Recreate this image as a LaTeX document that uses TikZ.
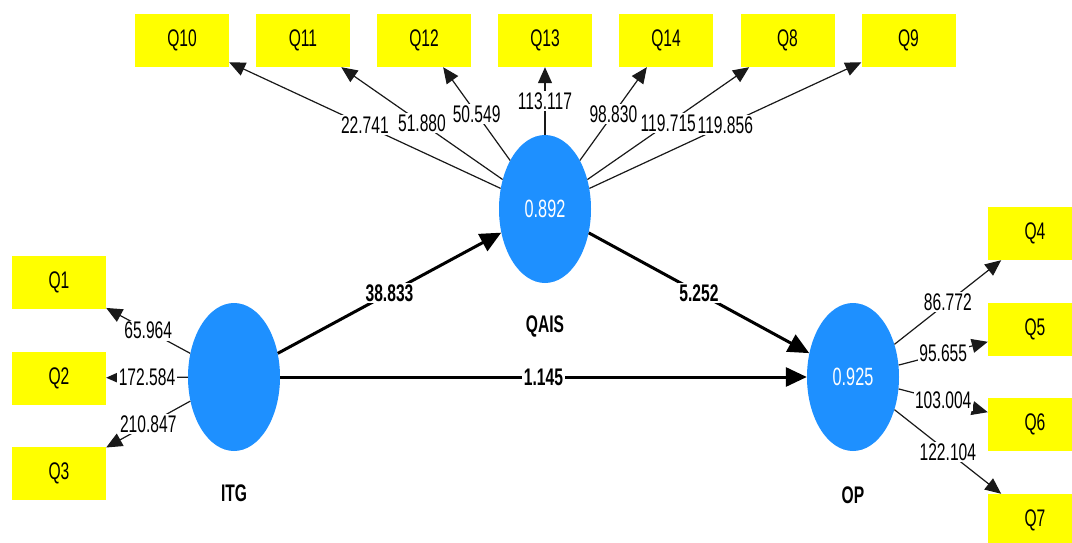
\documentclass[tikz,border=0pt]{standalone}
\usepackage{fontspec}
\setmainfont[FakeStretch=0.65]{Liberation Sans}
\usetikzlibrary{arrows.meta,shapes.geometric}
\definecolor{latentblue}{RGB}{30,144,255}
\definecolor{itemyellow}{RGB}{255,255,0}
\begin{document}
\begin{tikzpicture}[x=1pt,y=-1pt,
  ind/.style={fill=itemyellow, minimum width=94pt, minimum height=53pt, inner sep=0pt,
    font=\fontsize{24}{24}\selectfont},
  lat/.style={ellipse, fill=latentblue, minimum width=92pt, minimum height=148pt, inner sep=0pt,
    text=white, font=\fontsize{25}{25}\selectfont},
  loadarrow/.style={draw=black!90, line width=1.2pt, -{Triangle[length=16pt,width=14pt]}},
  patharrow/.style={draw=black, line width=3pt, -{Triangle[length=21pt,width=19pt]}},
  wlab/.style={fill=white, inner sep=1.5pt, text=black, font=\fontsize{24}{24}\selectfont},
  blab/.style={fill=white, inner sep=1.5pt, text=black, font=\fontsize{24}{24}\selectfont\bfseries},
  latname/.style={text=black, font=\fontsize{24}{24}\selectfont\bfseries},
]
\useasboundingbox (0,0) rectangle (1072,543);
\clip (0,0) rectangle (1072,543);
\fill[white] (0,0) rectangle (1072,543);

% latent variables
\node[lat] (itg)  at (234,377) {};
\node[lat] (qais) at (545,209) {0.892};
\node[lat] (op)   at (853,377) {0.925};
\node[latname] (litg)  at (234,493) {ITG};
\node[latname] (lqais) at (545,326) {QAIS};
\node[latname] (lop)   at (853,495) {OP};

% indicators of QAIS
\node[ind] (q10) at (182,40.5)   {Q10};
\node[ind] (q11) at (303,40.5)   {Q11};
\node[ind] (q12) at (424,40.5)   {Q12};
\node[ind] (q13) at (545,40.5)   {Q13};
\node[ind] (q14) at (666,40.5)   {Q14};
\node[ind] (q8)  at (787.5,40.5) {Q8};
\node[ind] (q9)  at (908.5,40.5) {Q9};

% indicators of ITG
\node[ind] (q1) at (59,282.5) {Q1};
\node[ind] (q2) at (59,378)   {Q2};
\node[ind] (q3) at (59,473.5) {Q3};

% indicators of OP
\node[ind] (q4) at (1035,233.5) {Q4};
\node[ind] (q5) at (1035,329.5) {Q5};
\node[ind] (q6) at (1035,424.5) {Q6};
\node[ind] (q7) at (1035,520.5) {Q7};

% loadings
\draw[loadarrow] (qais) -- node[wlab] {22.741} (q10);
\draw[loadarrow] (qais) -- node[wlab] {51.880} (q11);
\draw[loadarrow] (qais) -- node[wlab] {50.549} (q12);
\draw[loadarrow] (qais) -- node[wlab] {113.117} (q13);
\draw[loadarrow] (qais) -- node[wlab] {98.830} (q14);
\draw[loadarrow] (qais) -- node[wlab] {119.715} (q8);
\draw[loadarrow] (qais) -- node[wlab] {119.856} (q9);

\draw[loadarrow] (itg) -- node[wlab] {65.964} (q1);
\draw[loadarrow] (itg) -- node[wlab] {172.584} (q2);
\draw[loadarrow] (itg) -- node[wlab] {210.847} (q3);

\draw[loadarrow] (op) -- node[wlab] {86.772} (q4);
\draw[loadarrow] (op) -- node[wlab] {95.655} (q5);
\draw[loadarrow] (op) -- node[wlab] {103.004} (q6);
\draw[loadarrow] (op) -- node[wlab] {122.104} (q7);

% structural paths
\draw[patharrow] (itg) -- node[blab] {38.833} (qais);
\draw[patharrow] (qais) -- node[blab] {5.252} (op);
\draw[patharrow] (itg) -- node[blab] {1.145} (op);
\end{tikzpicture}
\end{document}
